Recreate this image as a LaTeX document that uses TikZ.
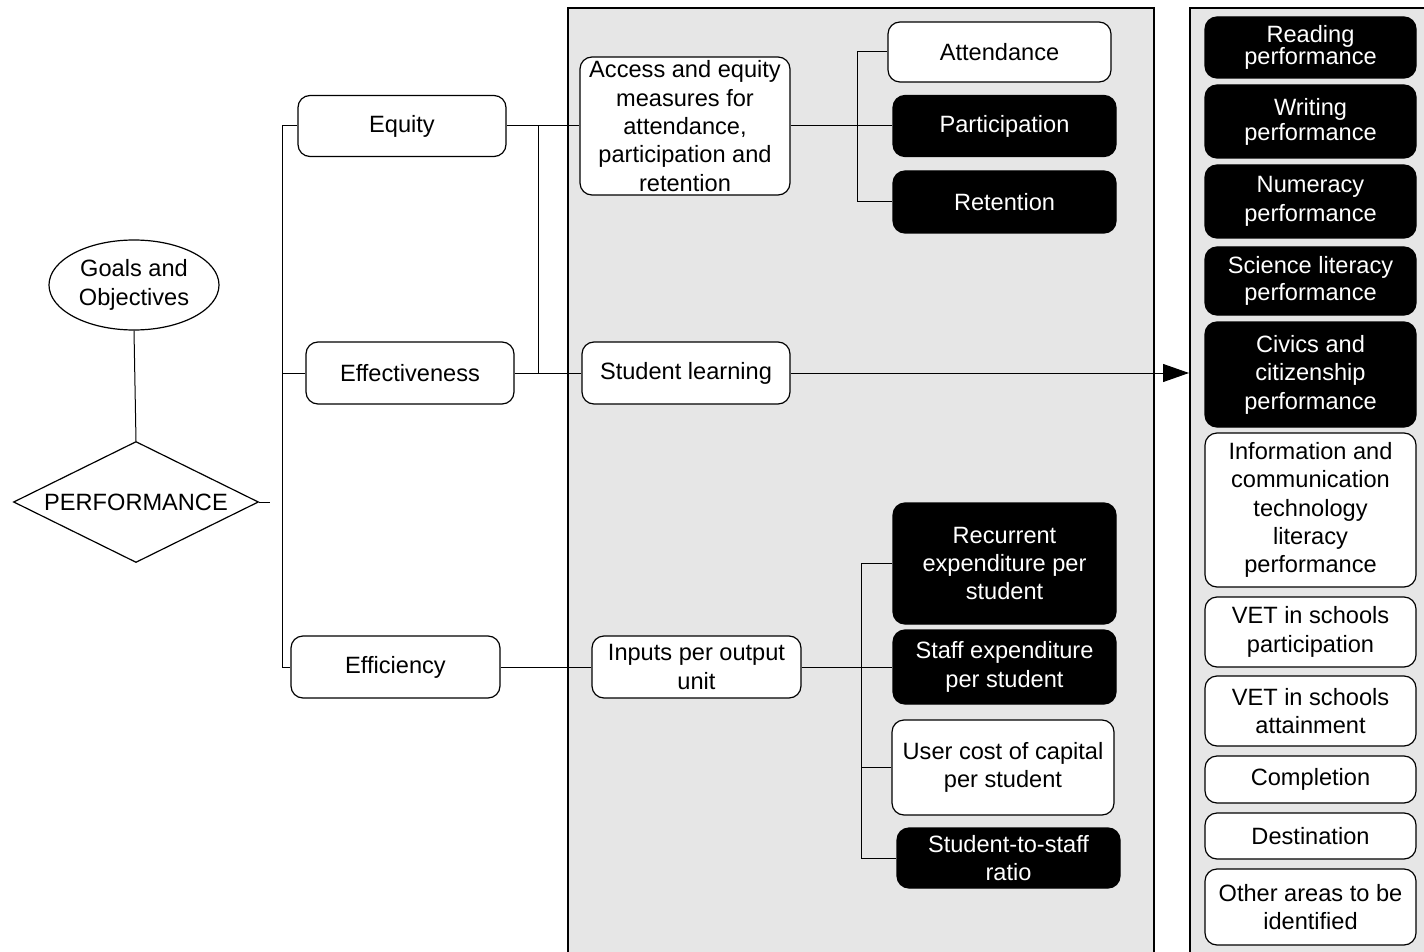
\documentclass[tikz,border=0pt]{standalone}
\usepackage{fontspec}
\setmainfont{Liberation Sans}
\usetikzlibrary{shapes.geometric}
\usetikzlibrary{arrows.meta}
\definecolor{panelgrey}{RGB}{230,230,230}
\tikzset{
	txt/.style={align=center,font=\fontsize{11.8}{14.2}\selectfont},
	box/.style={txt,draw,fill=white,line width=0.6pt,rounded corners=6pt,inner sep=1pt},
	darkbox/.style={box,fill=black,text=white},
	panel/.style={draw,fill=panelgrey,line width=0.9pt},
	link/.style={line width=0.5pt},
}

\begin{document}
\begin{tikzpicture}[x=0.5pt,y=-0.5pt]
	\useasboundingbox (0,0) rectangle (1424,952);
	\node[panel,anchor=north west,minimum width=293pt,minimum height=490pt,inner sep=0] (indicators) at (567,7) {};
	\node[panel,anchor=north west,minimum width=130pt,minimum height=490pt,inner sep=0] (outcomes) at (1189,7) {};
% left part
	\node[txt,draw,ellipse,line width=0.6pt,minimum width=85pt,minimum height=45pt,inner sep=0] (goals) at (134,285) {Goals and\\Objectives};
	\node[txt,draw,diamond,aspect=2.05,line width=0.6pt,minimum width=122.5pt,minimum height=60.5pt,inner sep=0] (perf) at (136,502) {PERFORMANCE};
	\coordinate (stub) at (270,502);
	\coordinate (trunk) at (282,0);
	\coordinate (join) at (538,0);
	\node[box,minimum width=104pt,minimum height=30.5pt] (equity) at (402,126) {Equity};
	\node[box,minimum width=104pt,minimum height=31pt] (effect) at (410,373) {Effectiveness};
	\node[box,minimum width=104.5pt,minimum height=31pt] (effic) at (395.5,667) {Efficiency};
% middle panel
	\node[box,minimum width=105pt,minimum height=69pt] (access) at (685,126) {Access and equity\\measures for\\attendance,\\participation and\\retention};
	\node[box,minimum width=104pt,minimum height=31pt] (learning) at (686,373) {Student learning};
	\node[box,minimum width=104.5pt,minimum height=31pt] (inputs) at (696.5,667) {Inputs per output\\unit};
	\node[box,minimum width=111.5pt,minimum height=30pt] (attend) at (999.5,52) {Attendance};
	\node[darkbox,minimum width=111.5pt,minimum height=30.5pt] (partic) at (1004.5,126) {Participation};
	\node[darkbox,minimum width=111.5pt,minimum height=31pt] (retent) at (1004.5,202) {Retention};
	\node[darkbox,minimum width=111.5pt,minimum height=60.5pt] (recur) at (1004.5,563.5) {Recurrent\\expenditure per\\student};
	\node[darkbox,minimum width=111.5pt,minimum height=37pt] (staff) at (1004.5,667) {Staff expenditure\\per student};
	\node[box,minimum width=111pt,minimum height=47.5pt] (usercost) at (1003,767.5) {User cost of capital\\per student};
	\node[darkbox,minimum width=111.5pt,minimum height=30pt] (ratio) at (1008.5,858) {Student-to-staff\\ratio};
	\coordinate (abr) at (857,0);
	\coordinate (ibr) at (861,0);
% right panel
	\node[darkbox,minimum width=105.5pt,minimum height=30.5pt,font=\fontsize{11.8}{11}\selectfont] (read) at (1310.5,47.5) {Reading\\performance};
	\node[darkbox,minimum width=105.5pt,minimum height=36.5pt,font=\fontsize{11.8}{12.5}\selectfont] (write) at (1310.5,121.5) {Writing\\performance};
	\node[darkbox,minimum width=105.5pt,minimum height=36.5pt] (numer) at (1310.5,201.5) {Numeracy\\performance};
	\node[darkbox,minimum width=105.5pt,minimum height=34pt,font=\fontsize{11.8}{13.5}\selectfont] (sci) at (1310.5,281) {Science literacy\\performance};
	\node[darkbox,minimum width=105.5pt,minimum height=52.5pt] (civics) at (1310.5,374.5) {Civics and\\citizenship\\performance};
	\node[box,minimum width=105.5pt,minimum height=77pt] (ict) at (1310.5,510) {Information and\\communication\\technology\\literacy\\performance};
	\node[box,minimum width=105.5pt,minimum height=35pt] (vetp) at (1310.5,632) {VET in schools\\participation};
	\node[box,minimum width=105.5pt,minimum height=35pt] (veta) at (1310.5,711) {VET in schools\\attainment};
	\node[box,minimum width=105.5pt,minimum height=23.5pt] (compl) at (1310.5,779.5) {Completion};
	\node[box,minimum width=105.5pt,minimum height=23pt] (dest) at (1310.5,836) {Destination};
	\node[box,minimum width=105.5pt,minimum height=38pt] (other) at (1310.5,907) {Other areas to be\\identified};
% connectors
	\draw[link] (goals.south) -- (perf.north);
	\draw[link] (perf.east) -- (stub);
	\draw[link] (equity.west) -- (trunk |- equity.west) -- (trunk |- effic.west) -- (effic.west);
	\draw[link] (effect.west) -- (trunk |- effect.west);
	\draw[link] (equity.east) -- (access.west);
	\draw[link] (join |- equity.east) -- (join |- effect.east);
	\draw[link] (effect.east) -- (learning.west);
	\draw[link] (effic.east) -- (inputs.west);
	\draw[link] (access.east) -- (partic.west);
	\draw[link] (attend.west) -- (abr |- attend.west) -- (abr |- retent.west) -- (retent.west);
	\draw[link] (inputs.east) -- (staff.west);
	\draw[link] (recur.west) -- (ibr |- recur.west) -- (ibr |- ratio.west) -- (ratio.west);
	\draw[link] (usercost.west) -- (ibr |- usercost.west);
	\draw[link,-{Triangle[length=13pt,width=9pt]}] (learning.east) -- (outcomes.west |- learning.east);
\end{tikzpicture}
\end{document}
